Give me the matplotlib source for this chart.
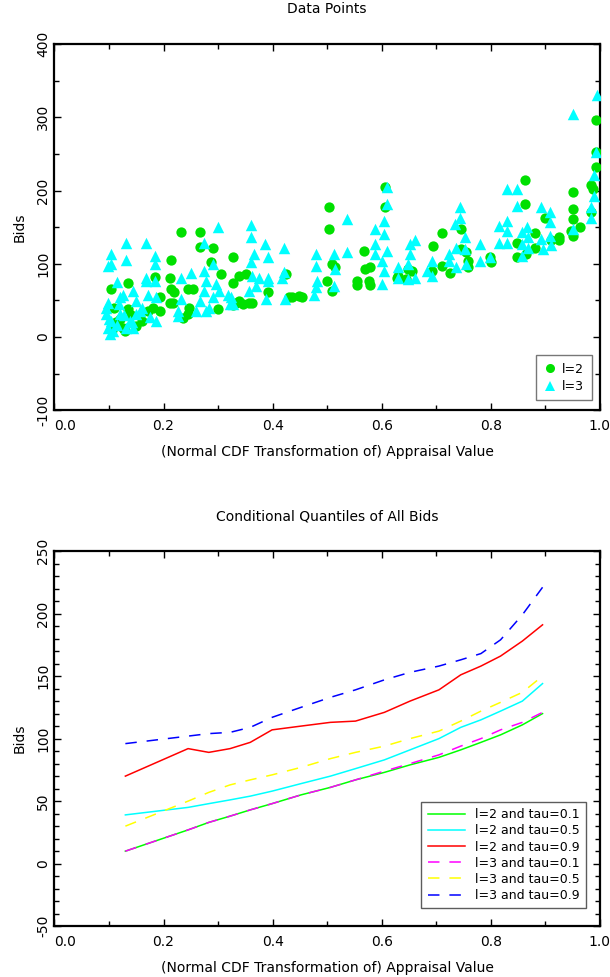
import matplotlib
matplotlib.use("Agg")
import matplotlib.pyplot as plt
from matplotlib.ticker import MultipleLocator
from matplotlib.lines import Line2D

# ---------------- data: top panel (scatter) ----------------
l2_x = [0.232, 0.266, 0.266, 0.291, 0.287, 0.214, 0.305, 0.328, 0.328, 0.339, 0.351, 0.425,
        0.135, 0.104, 0.184, 0.193, 0.211, 0.214, 0.220, 0.244, 0.254, 0.211, 0.217, 0.246,
        0.244, 0.235, 0.391, 0.503, 0.503, 0.509, 0.500, 0.509, 0.515, 0.430, 0.436, 0.448,
        0.454, 0.339, 0.345, 0.357, 0.363, 0.333, 0.299, 0.327, 0.129, 0.110, 0.135, 0.181,
        0.193, 0.568, 0.570, 0.579, 0.555, 0.555, 0.576, 0.579, 0.607, 0.607, 0.628, 0.630,
        0.644, 0.649, 0.655, 0.695, 0.692, 0.710, 0.710, 0.725, 0.746, 0.746, 0.755, 0.759,
        0.759, 0.798, 0.801, 0.848, 0.848, 0.862, 0.862, 0.865, 0.881, 0.881, 0.899, 0.911,
        0.926, 0.926, 0.951, 0.951, 0.951, 0.948, 0.951, 0.963, 0.984, 0.984, 0.987, 0.993,
        0.993, 0.993, 0.105, 0.112, 0.120, 0.140, 0.160, 0.172, 0.150, 0.125]
l2_y = [143, 143, 123, 121, 102, 105, 86, 109, 74, 84, 86, 86,
        74, 65, 82, 55, 81, 65, 62, 65, 66, 46, 46, 39,
        31, 26, 61, 177, 147, 100, 77, 63, 95, 54, 55, 56,
        54, 49, 45, 46, 47, 46, 38, 44, 8, 40, 38, 39,
        36, 117, 93, 95, 77, 71, 77, 71, 205, 178, 81, 84,
        79, 93, 90, 124, 90, 142, 97, 88, 147, 120, 116, 104,
        95, 109, 102, 128, 109, 215, 182, 113, 142, 122, 163, 132,
        132, 136, 198, 175, 161, 145, 138, 150, 207, 170, 202, 296,
        253, 232, 10, 20, 25, 30, 22, 35, 15, 12]

l3_x = [0.104, 0.104, 0.098, 0.131, 0.131, 0.168, 0.184, 0.185, 0.114, 0.098, 0.095, 0.098,
        0.101, 0.104, 0.120, 0.126, 0.144, 0.150, 0.168, 0.168, 0.171, 0.184, 0.187, 0.187,
        0.156, 0.150, 0.138, 0.132, 0.144, 0.120, 0.114, 0.232, 0.232, 0.250, 0.226, 0.226,
        0.275, 0.299, 0.275, 0.278, 0.275, 0.284, 0.266, 0.260, 0.278, 0.290, 0.296, 0.290,
        0.302, 0.318, 0.321, 0.324, 0.327, 0.361, 0.361, 0.366, 0.361, 0.357, 0.369, 0.375,
        0.363, 0.386, 0.391, 0.391, 0.391, 0.388, 0.421, 0.421, 0.418, 0.423, 0.479, 0.479,
        0.482, 0.476, 0.479, 0.512, 0.515, 0.512, 0.537, 0.537, 0.588, 0.588, 0.588, 0.604,
        0.604, 0.610, 0.610, 0.610, 0.601, 0.604, 0.601, 0.630, 0.630, 0.652, 0.661, 0.652,
        0.649, 0.661, 0.649, 0.683, 0.692, 0.692, 0.723, 0.723, 0.734, 0.737, 0.744, 0.744,
        0.753, 0.753, 0.737, 0.755, 0.780, 0.780, 0.798, 0.816, 0.816, 0.829, 0.829, 0.829,
        0.829, 0.849, 0.849, 0.857, 0.857, 0.857, 0.866, 0.869, 0.869, 0.893, 0.893, 0.908,
        0.908, 0.908, 0.911, 0.896, 0.951, 0.951, 0.984, 0.984, 0.990, 0.990, 0.993, 0.995,
        0.095, 0.100, 0.108, 0.118, 0.128, 0.142, 0.160, 0.175]
l3_y = [113, 100, 97, 128, 105, 128, 110, 100, 75, 47, 31, 13,
        4, 22, 54, 58, 63, 49, 77, 81, 58, 77, 22, 54,
        36, 31, 22, 13, 13, 31, 17, 81, 52, 87, 36, 29,
        128, 150, 90, 77, 63, 40, 49, 36, 36, 100, 72, 54,
        63, 58, 45, 54, 45, 153, 136, 113, 102, 63, 70, 81,
        84, 127, 109, 81, 77, 52, 122, 89, 81, 52, 113, 97,
        77, 58, 68, 113, 93, 70, 161, 116, 147, 127, 113, 158,
        140, 205, 181, 118, 104, 90, 72, 95, 81, 127, 132, 113,
        100, 81, 79, 90, 104, 84, 113, 104, 154, 122, 163, 178,
        136, 120, 95, 100, 127, 104, 109, 152, 129, 159, 145, 129,
        202, 202, 179, 143, 127, 111, 150, 136, 122, 177, 134, 170,
        157, 138, 125, 120, 305, 147, 163, 178, 193, 221, 253, 330,
        40, 25, 8, 45, 30, 20, 40, 28]

# ---------------- data: bottom panel (quantile lines) ----------------
q_x = [0.13, 0.245, 0.283, 0.322, 0.359, 0.399, 0.452, 0.506, 0.552, 0.605, 0.652,
       0.705, 0.745, 0.782, 0.818, 0.858, 0.895]
l2_tau01 = [10, 27, 33, 38, 43, 48, 55, 61, 67, 73, 79, 85, 91, 97, 103, 111, 120]
l2_tau05 = [39, 45, 48, 51, 54, 58, 64, 70, 76, 83, 91, 100, 109, 115, 122, 130, 144]
l2_tau09 = [70, 92, 89, 92, 97, 107, 110, 113, 114, 121, 130, 139, 151, 158, 166, 178, 191]
l3_tau01 = [10, 27, 33, 38, 43, 48, 55, 61, 67, 74, 80, 87, 94, 100, 107, 113, 121]
l3_tau05 = [30, 50, 57, 63, 67, 71, 77, 84, 89, 94, 100, 106, 114, 122, 129, 137, 150]
l3_tau09 = [96, 102, 104, 105, 109, 117, 125, 133, 139, 147, 153, 158, 163, 168, 179, 199, 221]

x_ticks = [0.0, 0.2, 0.4, 0.6, 0.8, 1.0]
x_ticklabels = ["0.0", "0.2", "0.4", "0.6", "0.8", "1.0"]
top_yticks = [-100, 0, 100, 200, 300, 400]
bot_yticks = [-50, 0, 50, 100, 150, 200, 250]

GREEN = "#00e000"
CYAN = "#00ffff"
FS = 10

plt.rcParams["font.family"] = ["DejaVu Sans"]

fig = plt.figure(figsize=(6.10, 9.77), dpi=100)
ax1 = fig.add_axes([0.0893, 0.580, 0.894, 0.375])
ax2 = fig.add_axes([0.0893, 0.052, 0.894, 0.384])


def style_axis(ax, yticks, ymin_step):
    for s in ax.spines.values():
        s.set_linewidth(1.6)
    ax.set_xlim(0, 1)
    ax.set_xticks(x_ticks)
    ax.set_xticklabels(x_ticklabels, fontsize=FS)
    ax.xaxis.set_minor_locator(MultipleLocator(0.1))
    ax.set_yticks(yticks)
    ax.set_yticklabels([str(v) for v in yticks], fontsize=FS)
    ax.yaxis.set_minor_locator(MultipleLocator(ymin_step))
    ax.tick_params(which="both", direction="in", top=True, right=True, width=1.0)
    ax.tick_params(which="major", length=5)
    ax.tick_params(which="minor", length=3.5)
    ax.tick_params(axis="x", pad=6)
    ax.tick_params(axis="y", labelrotation=90, pad=3)
    for lab in ax.get_yticklabels():
        lab.set_va("center")
    ax.get_xticklabels()[0].set_ha("left")
    ax.set_xlabel("(Normal CDF Transformation of) Appraisal Value", fontsize=FS, labelpad=9)
    ax.set_ylabel("Bids", fontsize=FS, labelpad=7)


# ---------- top ----------
ax1.scatter(l2_x, l2_y, s=55, marker="o", color=GREEN, linewidths=0, zorder=3)
ax1.scatter(l3_x, l3_y, s=68, marker="^", color=CYAN, linewidths=0, zorder=4)
ax1.set_ylim(-100, 400)
style_axis(ax1, top_yticks, 50)
ax1.set_title("Data Points", fontsize=FS, pad=22)
h1 = [Line2D([], [], marker="o", color=GREEN, ls="none", markersize=6.5, markeredgewidth=0),
      Line2D([], [], marker="^", color=CYAN, ls="none", markersize=7, markeredgewidth=0)]
leg1 = ax1.legend(h1, ["l=2", "l=3"], loc="lower right", bbox_to_anchor=(0.985, 0.027),
                  fontsize=9, frameon=True, fancybox=False, handlelength=1.0,
                  handletextpad=0.5, borderpad=0.6, labelspacing=0.35, borderaxespad=0)
leg1.get_frame().set_edgecolor("#555555")
leg1.get_frame().set_linewidth(1.0)

# ---------- bottom ----------
dash = (0, (7.5, 6.5))
ax2.plot(q_x, l2_tau01, color="#00ff00", lw=1.1, label="l=2 and tau=0.1")
ax2.plot(q_x, l2_tau05, color="#00ffff", lw=1.1, label="l=2 and tau=0.5")
ax2.plot(q_x, l2_tau09, color="#ff0000", lw=1.1, label="l=2 and tau=0.9")
ax2.plot(q_x, l3_tau01, color="#ff00ff", lw=1.1, ls=dash, label="l=3 and tau=0.1")
ax2.plot(q_x, l3_tau05, color="#ffff00", lw=1.1, ls=dash, label="l=3 and tau=0.5")
ax2.plot(q_x, l3_tau09, color="#0000ff", lw=1.1, ls=dash, label="l=3 and tau=0.9")
ax2.set_ylim(-50, 250)
style_axis(ax2, bot_yticks, 10)
ax2.set_title("Conditional Quantiles of All Bids", fontsize=FS, pad=22)
leg2 = ax2.legend(loc="lower right", bbox_to_anchor=(0.975, 0.048), fontsize=9,
                  frameon=True, fancybox=False, handlelength=3.0, handletextpad=0.8,
                  borderpad=0.5, labelspacing=0.25, borderaxespad=0)
leg2.get_frame().set_edgecolor("#333333")
leg2.get_frame().set_linewidth(1.0)

fig.savefig("out.png", dpi=100)
